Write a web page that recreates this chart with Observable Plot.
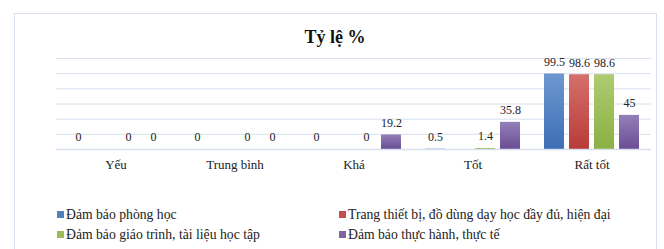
<!DOCTYPE html>
<html><head><meta charset="utf-8">
<script src="https://cdn.jsdelivr.net/npm/d3@7"></script>
<script src="https://cdn.jsdelivr.net/npm/@observablehq/plot@0.6"></script>
<style>
body{margin:0;background:#fff;}
#wrap{position:relative;width:664px;height:249px;overflow:hidden;font-family:"Liberation Serif","Times New Roman",serif;}
#frame{position:absolute;left:14px;top:13px;width:643px;height:260px;border:1px solid #d6e0ee;box-sizing:border-box;}
#title{position:absolute;left:0;width:670px;top:26px;text-align:center;font-weight:bold;font-size:18px;line-height:22px;color:#111;}
#chart{position:absolute;left:0;top:0;}
.leg{position:absolute;font-family:"Liberation Serif","Times New Roman",serif;font-size:13.7px;line-height:16px;color:#222;white-space:nowrap;}
.leg i{display:inline-block;width:7px;height:7px;margin-right:2px;vertical-align:1px;}
</style></head>
<body>
<svg width="0" height="0" style="position:absolute">
<defs>
<linearGradient id="g0" x1="0" y1="0" x2="0" y2="1"><stop offset="0" stop-color="#6e97d0"/><stop offset="1" stop-color="#3d6fb5"/></linearGradient>
<linearGradient id="g1" x1="0" y1="0" x2="0" y2="1"><stop offset="0" stop-color="#d4706c"/><stop offset="1" stop-color="#b93b37"/></linearGradient>
<linearGradient id="g2" x1="0" y1="0" x2="0" y2="1"><stop offset="0" stop-color="#aecb72"/><stop offset="1" stop-color="#8bb043"/></linearGradient>
<linearGradient id="g3" x1="0" y1="0" x2="0" y2="1"><stop offset="0" stop-color="#9480b8"/><stop offset="1" stop-color="#6a4d94"/></linearGradient>
</defs></svg>
<div id="wrap">
<div id="frame"></div>
<div id="chart"></div>
<div id="title">Tỷ lệ %</div>
<div id="legend"></div>
</div>
<script>
const categories = ["Yếu", "Trung bình", "Khá", "Tốt", "Rất tốt"];
const seriesNames = [
  "Đảm bảo phòng học",
  "Trang thiết bị, đồ dùng dạy học đầy đủ, hiện đại",
  "Đảm bảo giáo trình, tài liệu học tập",
  "Đảm bảo thực hành, thực tế"
];
const phongHoc = [0, 0, 0, 0.5, 99.5];
const trangThietBi = [null, null, null, null, 98.6];
const giaoTrinh = [0, 0, 0, 1.4, 98.6];
const thucHanh = [0, 0, 19.2, 35.8, 45];
const legendColors = ["#4f81bd", "#c0504d", "#9bbb59", "#8064a2"];
const gridTicks = [0, 20, 40, 60, 80, 100, 120];

const allValues = [phongHoc, trangThietBi, giaoTrinh, thucHanh];
const rows = [];
seriesNames.forEach((s, i) => categories.forEach((c, j) => {
  if (allValues[i][j] != null) rows.push({cat: c, series: s, value: allValues[i][j]});
}));

const marks = [
  Plot.ruleY(gridTicks, {stroke: "#d6e0ee", strokeWidth: 1, insetLeft: -8, insetRight: -8})
];
seriesNames.forEach((s, i) => {
  marks.push(Plot.barY(rows.filter(r => r.series === s), {fx: "cat", x: "series", y: "value", fill: `url(#g${i})`}));
});
marks.push(Plot.ruleY([0], {stroke: "#d6e0ee", strokeWidth: 1.5, insetLeft: -8, insetRight: -8}));
marks.push(Plot.text(rows, {fx: "cat", x: "series", y: "value", text: d => String(d.value), dy: -12, fill: "#222", fontSize: 12}));

const chart = Plot.plot({
  width: 664, height: 180,
  marginTop: 58, marginBottom: 31, marginLeft: 56, marginRight: 12,
  style: {fontFamily: '"Liberation Serif","Times New Roman",serif', fontSize: "13px", color: "#222", background: "transparent"},
  fx: {domain: categories, paddingInner: 0.133, paddingOuter: 0.067, label: null, tickSize: 0, tickPadding: 10, axis: "bottom"},
  x: {domain: seriesNames, paddingInner: 0.2, paddingOuter: 0.1, axis: null},
  y: {domain: [0, 120], axis: null},
  marks
});
document.getElementById("chart").appendChild(chart);

const legend = document.getElementById("legend");
const pos = [[57, 207], [339, 207], [57, 227], [339, 227]];
seriesNames.forEach((s, i) => {
  const d = document.createElement("div");
  d.className = "leg";
  d.style.left = pos[i][0] + "px";
  d.style.top = pos[i][1] + "px";
  d.innerHTML = `<i style="background:${legendColors[i]}"></i>`;
  d.appendChild(document.createTextNode(s));
  legend.appendChild(d);
});
</script>
</body></html>
